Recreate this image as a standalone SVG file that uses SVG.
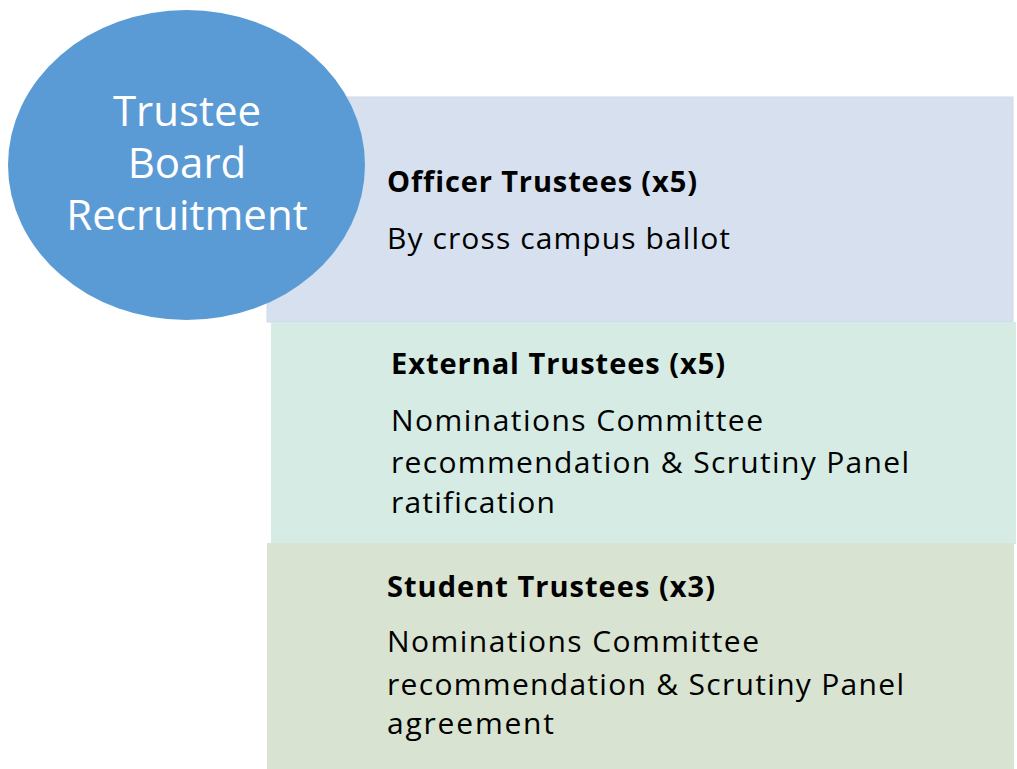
<svg xmlns="http://www.w3.org/2000/svg" width="1017" height="769" viewBox="0 0 1017 769">
<style>
text{font-family:"Open Sans","Noto Sans","Liberation Sans",sans-serif;font-variant-ligatures:none}
.h{font-weight:bold;font-size:29px;fill:#000}
.b{font-size:30px;fill:#000}
.c{font-size:42px;fill:#fff;text-anchor:middle}
</style>
<rect width="1017" height="769" fill="#fff"/>
<g id="officer">
<rect x="267" y="97" width="746" height="225" fill="#D6E0EE" stroke="#CFDAEA" stroke-width="1"/>
<text class="h" x="387" y="192" textLength="310" lengthAdjust="spacing">Officer Trustees (x5)</text>
<text class="b" x="387" y="249" textLength="343" lengthAdjust="spacing">By cross campus ballot</text>
</g>
<g id="external">
<rect x="271" y="322" width="745" height="222" fill="#D5EBE4"/>
<text class="h" x="391" y="374" textLength="334" lengthAdjust="spacing">External Trustees (x5)</text>
<text class="b" x="391" y="431" textLength="372" lengthAdjust="spacing">Nominations Committee</text>
<text class="b" x="391" y="473" textLength="518" lengthAdjust="spacing">recommendation &amp; Scrutiny Panel</text>
<text class="b" x="391" y="513" textLength="164" lengthAdjust="spacing">ratification</text>
</g>
<g id="student">
<rect x="267" y="543" width="747" height="226" fill="#D8E3D1"/>
<text class="h" x="387" y="597" textLength="328" lengthAdjust="spacing">Student Trustees (x3)</text>
<text class="b" x="387" y="652" textLength="372" lengthAdjust="spacing">Nominations Committee</text>
<text class="b" x="387" y="695" textLength="517" lengthAdjust="spacing">recommendation &amp; Scrutiny Panel</text>
<text class="b" x="387" y="734" textLength="167" lengthAdjust="spacing">agreement</text>
</g>
<g id="recruitment">
<ellipse cx="186.5" cy="165" rx="178.5" ry="155" fill="#5B9BD5"/>
<text class="c" x="187" y="126">Trustee</text>
<text class="c" x="187" y="178">Board</text>
<text class="c" x="187" y="230">Recruitment</text>
</g>
<g id="connectors"></g>
</svg>
